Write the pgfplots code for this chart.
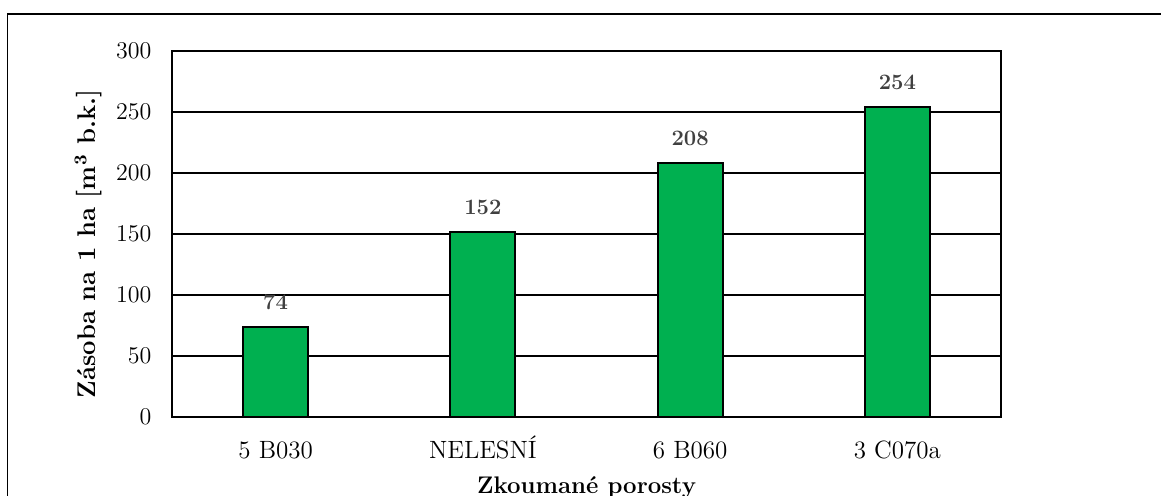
\documentclass[border=0pt]{standalone}
\usepackage{fontspec}
\usepackage{pgfplots}
\pgfplotsset{compat=1.18}
\definecolor{barGreen}{RGB}{0,176,80}
\definecolor{valGray}{RGB}{64,64,64}
\begin{document}
\begin{tikzpicture}
% page size: 1161 x 495 units of 0.5pt
\path[use as bounding box] (0,0) rectangle (580.5pt,247.5pt);
% outer chart frame (continues beyond the page on the right and bottom)
\draw[line width=0.6pt] (3.6pt,-2pt) -- (3.6pt,240.5pt) -- (584pt,240.5pt);
\begin{axis}[
  at={(86pt,39pt)}, anchor=south west,
  scale only axis, width=414.5pt, height=183pt,
  xmin=-0.5, xmax=3.5, ymin=0, ymax=300,
  ytick={0,50,...,300},
  xtick={0,1,2,3},
  xticklabels={5 B030, NELESNÍ, 6 B060, 3 C070a},
  major tick length=0pt,
  axis line style={line width=0.7pt},
  ymajorgrids, grid style={black, line width=0.6pt},
  tick label style={font=\fontsize{12.5}{15}\selectfont},
  y tick label style={xshift=-6.8pt},
  x tick label style={anchor=base, yshift=-20.5pt},
  xlabel={\textbf{Zkoumané porosty}},
  ylabel={\textbf{Zásoba na 1 ha [m\textsuperscript{3} b.k.]}},
  every axis x label/.style={at={(axis description cs:0.5,0)}, anchor=base, yshift=-38pt,
    font=\fontsize{12}{14}\selectfont},
  every axis y label/.style={at={(axis description cs:-0.1013,0.473)}, rotate=90, anchor=center,
    font=\fontsize{12.8}{15}\selectfont},
  nodes near coords={\pgfmathprintnumber[assume math mode=true]{\pgfplotspointmeta}},
  every node near coord/.append style={font=\fontsize{11}{13}\selectfont\bfseries, text=valGray, yshift=4.8pt},
]
\addplot[ybar, bar width=32.5pt, fill=barGreen, draw=black, line width=1pt]
  coordinates {(0,74) (1,152) (2,208) (3,254)};
\end{axis}
\end{tikzpicture}
\end{document}
